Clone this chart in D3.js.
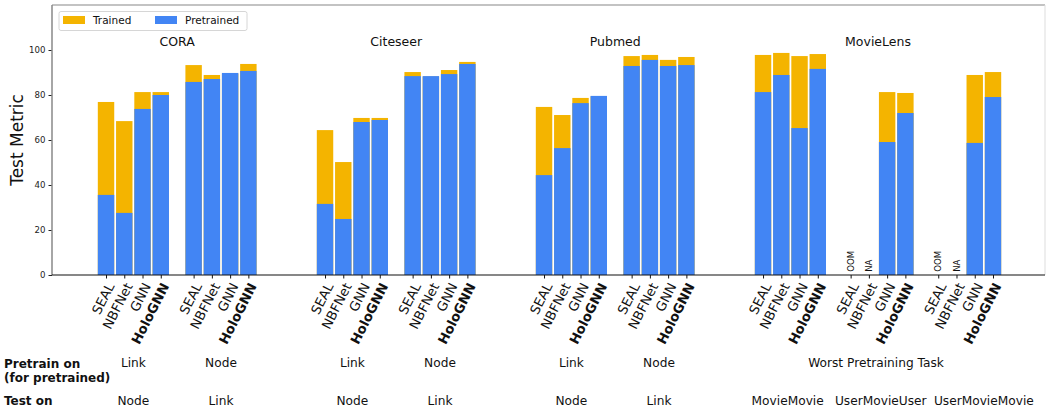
<!DOCTYPE html>
<html>
<head>
<meta charset="utf-8">
<script src="https://cdn.jsdelivr.net/npm/d3@7"></script>
<style>
  html, body { margin: 0; padding: 0; background: #fff; }
  svg { display: block; font-family: "DejaVu Sans", sans-serif; }
</style>
</head>
<body>
<svg id="chart" width="1046" height="408"></svg>
<script>
// ---------- data ----------
const datasets = ["CORA", "Citeseer", "Pubmed", "MovieLens"];
const models = ["SEAL", "NBFNet", "GNN", "HoloGNN"];
const seriesNames = ["Trained", "Pretrained"];

// values per dataset, groups of 4 models each
const coraTrained      = [76.9, 68.4, 81.3, 81.3, 93.3, 88.9, 89.5, 93.8];
const coraPretrained   = [35.6, 27.6, 73.8, 80.0, 85.8, 87.1, 89.8, 90.7];
const citeseerTrained    = [64.4, 50.2, 69.8, 69.8, 90.2, 88.2, 91.1, 94.7];
const citeseerPretrained = [31.6, 24.9, 68.0, 68.9, 88.4, 88.4, 89.3, 93.8];
const pubmedTrained    = [74.7, 71.1, 78.7, 79.4, 97.3, 97.8, 95.6, 96.9];
const pubmedPretrained = [44.4, 56.4, 76.4, 79.6, 92.9, 95.6, 92.9, 93.3];
const movielensTrained    = [97.8, 98.7, 97.3, 98.2, null, null, 81.3, 80.9, null, null, 88.9, 90.2];
const movielensPretrained = [81.3, 88.9, 65.3, 91.6, null, null, 59.1, 72.0, null, null, 58.7, 79.1];
const movielensMissing    = ["", "", "", "", "OOM", "NA", "", "", "OOM", "NA", "", ""];

const yTicks = [0, 20, 40, 60, 80, 100];

const pretrainRow = [["Link", "Node"], ["Link", "Node"], ["Link", "Node"], ["Worst Pretraining Task"]];
const testRow = [["Node", "Link"], ["Node", "Link"], ["Node", "Link"], ["MovieMovie", "UserMovieUser", "UserMovieMovie"]];
const rowHeaders = [["Pretrain on", "(for pretrained)"], ["Test on"]];

// ---------- layout ----------
const colors = { Trained: "#F4B400", Pretrained: "#4285F4" };
const DATASET_STEP = 12, GROUP_STEP = 4.8, BAR_W = 0.9;
const testLabelShift = [[0, 0], [0, 0], [0, 0], [-0.15, 0.15, 1.0]];

const trainedAll = [coraTrained, citeseerTrained, pubmedTrained, movielensTrained];
const pretrainedAll = [coraPretrained, citeseerPretrained, pubmedPretrained, movielensPretrained];
const missingAll = [null, null, null, movielensMissing];

const bars = [];
trainedAll.forEach((arr, d) => {
  arr.forEach((v, k) => {
    const g = Math.floor(k / 4), m = k % 4;
    bars.push({
      d, g, m,
      pos: DATASET_STEP * d + GROUP_STEP * g + m,
      trained: v,
      pretrained: pretrainedAll[d][k],
      missing: missingAll[d] ? missingAll[d][k] : "",
      model: models[m]
    });
  });
});

const svg = d3.select("#chart");
const L = 52, R = 1045, T = 5, B = 275;
const x = d3.scaleLinear().domain([-2.96, 51.45]).range([L, R]);
const y = d3.scaleLinear().domain([0, 120]).range([B, T]);
const bw = x(BAR_W) - x(0);

// bars: trained behind, pretrained in front
const gBars = svg.append("g");
bars.filter(b => b.trained != null).forEach(b => {
  gBars.append("rect")
    .attr("x", x(b.pos) - bw / 2).attr("width", bw)
    .attr("y", y(b.trained)).attr("height", y(0) - y(b.trained))
    .attr("fill", colors.Trained);
});
bars.filter(b => b.pretrained != null).forEach(b => {
  gBars.append("rect")
    .attr("x", x(b.pos) - bw / 2).attr("width", bw)
    .attr("y", y(b.pretrained)).attr("height", y(0) - y(b.pretrained))
    .attr("fill", colors.Pretrained);
});

// OOM / NA texts
bars.filter(b => b.missing).forEach(b => {
  svg.append("text")
    .attr("transform", `translate(${x(b.pos)},${y(1.4)}) rotate(-90)`)
    .attr("dy", "0.35em")
    .attr("font-size", 8.6)
    .attr("fill", "#111")
    .text(b.missing);
});

// y axis
const yAxis = d3.axisLeft(y).tickValues(yTicks).tickSize(3.5).tickPadding(3);
const gy = svg.append("g").attr("transform", `translate(${L},0)`).call(yAxis);
gy.select(".domain").remove();
gy.selectAll("text").attr("font-size", 8.6).attr("font-family", "DejaVu Sans").attr("fill", "#222");
gy.selectAll("line").attr("stroke", "#222");

// x axis ticks
const xAxis = d3.axisBottom(x).tickValues(bars.map(b => b.pos)).tickSize(3.5).tickFormat("");
const gx = svg.append("g").attr("transform", `translate(0,${B})`).call(xAxis);
gx.select(".domain").remove();
gx.selectAll("line").attr("stroke", "#111");

// x tick labels
bars.forEach(b => {
  svg.append("text")
    .attr("transform", `translate(${x(b.pos)},${B + 6.5}) rotate(-63)`)
    .attr("text-anchor", "end")
    .attr("dy", "0.74em")
    .attr("font-size", 13.2)
    .attr("font-weight", b.model === "HoloGNN" ? "bold" : "normal")
    .attr("fill", "#111")
    .text(b.model);
});

// frame
svg.append("line").attr("x1", L).attr("x2", R).attr("y1", T).attr("y2", T).attr("stroke", "#888").attr("stroke-width", 1.2);
svg.append("line").attr("x1", L).attr("x2", L).attr("y1", T).attr("y2", B).attr("stroke", "#888").attr("stroke-width", 1.5);
svg.append("line").attr("x1", R).attr("x2", R).attr("y1", T).attr("y2", B).attr("stroke", "#ddd").attr("stroke-width", 1);
svg.append("line").attr("x1", L).attr("x2", R).attr("y1", B).attr("y2", B).attr("stroke", "#111").attr("stroke-width", 1.2);

// dataset titles
datasets.forEach((name, d) => {
  const nG = d === 3 ? 3 : 2;
  const c = (DATASET_STEP * d + (DATASET_STEP * d + GROUP_STEP * (nG - 1) + 3)) / 2;
  svg.append("text")
    .attr("x", x(c)).attr("y", 42).attr("dy", "0.35em")
    .attr("text-anchor", "middle").attr("font-size", 12.5).attr("fill", "#111")
    .text(name);
});

// y label
svg.append("text")
  .attr("transform", `translate(17,${(T + B) / 2}) rotate(-90)`)
  .attr("text-anchor", "middle").attr("dy", "0.35em")
  .attr("font-size", 17).attr("fill", "#111")
  .text("Test Metric");

// legend
const lg = svg.append("g");
lg.append("rect").attr("x", 59).attr("y", 11.5).attr("width", 188).attr("height", 19)
  .attr("rx", 2).attr("fill", "#fff").attr("stroke", "#ccc").attr("stroke-width", 0.8);
const legendX = [63, 155];
seriesNames.forEach((s, i) => {
  lg.append("rect").attr("x", legendX[i]).attr("y", 16).attr("width", 22).attr("height", 8).attr("fill", colors[s]);
  lg.append("text").attr("x", legendX[i] + 30).attr("y", 20.5).attr("dy", "0.35em")
    .attr("font-size", 10.5).attr("fill", "#111").text(s);
});

// bottom table
const row1Y = 362.5, row2Y = 400.5;
pretrainRow.forEach((labels, d) => {
  if (labels.length === 1) {
    const nG = 3;
    const c = (DATASET_STEP * d + (DATASET_STEP * d + GROUP_STEP * (nG - 1) + 3)) / 2;
    svg.append("text").attr("x", x(c) - 2).attr("y", row1Y).attr("dy", "0.35em")
      .attr("text-anchor", "middle").attr("font-size", 12.2).attr("fill", "#111").text(labels[0]);
  } else {
    labels.forEach((t, g) => {
      const c = DATASET_STEP * d + GROUP_STEP * g + 1.5;
      svg.append("text").attr("x", x(c)).attr("y", row1Y).attr("dy", "0.35em")
        .attr("text-anchor", "middle").attr("font-size", 12.2).attr("fill", "#111").text(t);
    });
  }
});
testRow.forEach((labels, d) => {
  labels.forEach((t, g) => {
    const c = DATASET_STEP * d + GROUP_STEP * g + 1.5 + testLabelShift[d][g];
    svg.append("text").attr("x", x(c)).attr("y", row2Y).attr("dy", "0.35em")
      .attr("text-anchor", "middle").attr("font-size", 12.2).attr("fill", "#111").text(t);
  });
});
const headerY = [[363.5, 377.5], [401]];
rowHeaders.forEach((lines, r) => {
  lines.forEach((t, i) => {
    svg.append("text").attr("x", 4).attr("y", headerY[r][i]).attr("dy", "0.35em")
      .attr("font-size", 12).attr("font-weight", "bold").attr("fill", "#111").text(t);
  });
});
</script>
</body>
</html>
